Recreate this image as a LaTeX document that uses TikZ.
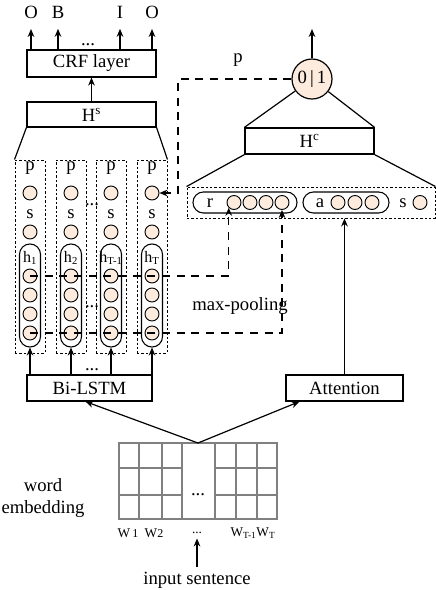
\documentclass[tikz,border=0pt]{standalone}
\usepackage{fontspec}
\setmainfont{Liberation Serif}
\usetikzlibrary{arrows.meta}
\definecolor{cellfill}{RGB}{253,236,221}
\definecolor{gridgray}{RGB}{128,128,128}
\tikzset{
  lay/.style={draw,line width=0.9pt,inner sep=0pt},
  unit/.style={circle,draw,fill=cellfill,minimum size=10.5pt,inner sep=0pt,line width=0.7pt},
  pill/.style={draw,line width=0.8pt,rounded corners=7.8pt,inner sep=0pt},
  colbox/.style={draw,dash pattern=on 1.8pt off 1.5pt,line width=0.7pt,inner sep=0pt},
  pool/.style={dash pattern=on 6pt off 5pt,line width=0.8pt},
  arr/.style={-{Stealth[length=6pt,width=5pt]},line width=0.9pt},
}
\begin{document}
\begin{tikzpicture}[x=0.75pt,y=-0.75pt,font=\fontsize{14}{16}\selectfont]
\useasboundingbox (0,0) rectangle (436,590);

% sequence labelling side
\node[lay,minimum width=96.75pt,minimum height=20.25pt] (crf) at (91.5,63.5) {CRF layer};
\node[lay,minimum width=96.75pt,minimum height=18.75pt] (hs) at (91.5,114.5) {H\textsuperscript{s}};
\draw[arr] (hs.north) -- (crf.south);
\foreach \n/\x/\t in {o1/31/O,b/58/B,i/120/I,o2/152/O}{
  \node (\n) at (\x,12) {\t};
  \draw[arr] (\n |- crf.north) -- ([yshift=-4.5pt]\n.south);
}
\node at (88,45) {...};

\foreach \i/\x/\h in {1/30/h\textsubscript{1},2/71/h\textsubscript{2},3/111/h\textsubscript{T-1},4/152/h\textsubscript{T}}{
  \node[colbox,minimum width=22.5pt,minimum height=144.75pt] (col\i) at (\x,256.5) {};
  \node (p\i) at (\x,168) {p};
  \node[unit] (pu\i) at (\x,193) {};
  \node (s\i) at (\x,214) {s};
  \node[unit] (su\i) at (\x,232) {};
  \node[pill,minimum width=15.75pt,minimum height=77.25pt] (hp\i) at (\x,295.5) {};
  \node[font=\fontsize{12}{14}\selectfont] (hl\i) at (\x,258) {\h};
  \foreach \j/\y in {1/276,2/295,3/314,4/333}
    \node[unit] (h\i\j) at (\x,\y) {};
}
\draw[lay] (hs.south west) -- (col1.north west);
\draw[lay] (hs.south east) -- (col4.north east);
\node at (92,205) {...};
\node at (92,307) {...};

\node[lay,minimum width=93.75pt,minimum height=19.5pt] (lstm) at (89.5,388) {Bi-LSTM};
\foreach \i in {1,...,4}
  \draw[arr] (hp\i.south |- lstm.north) -- (hp\i.south);
\node at (92,370) {...};

% classification side
\node[colbox,minimum width=186pt,minimum height=23.25pt] (ctx) at (311,202.5) {};
\node[pill,minimum width=78pt,minimum height=15.75pt] (rpill) at (245,202.5) {};
\node (rl) at (210,203) {r};
\foreach \k/\x in {1/234,2/250,3/266,4/282}
  \node[unit] (r\k) at (\x,202.5) {};
\node[pill,minimum width=64.5pt,minimum height=15.75pt] (apill) at (346,202.5) {};
\node (al) at (320,203) {a};
\foreach \k/\x in {1/338,2/355,3/372}
  \node[unit] (a\k) at (\x,202.5) {};
\node (sl) at (403,203) {s};
\node[unit] (sc) at (420,202.5) {};

\node[lay,minimum width=96.75pt,minimum height=19.5pt] (hc) at (309.5,141) {H\textsuperscript{c}};
\draw[lay] (hc.south west) -- (ctx.north west);
\draw[lay] (hc.south east) -- (ctx.north east);
\node[unit,minimum size=30pt,line width=0.9pt] (z) at (312,79) {0\,|\,1};
\draw[lay] (hc.north west) -- (z);
\draw[lay] (hc.north east) -- (z);
\coordinate (zout) at (312,29);
\draw[arr] (z.north) -- (zout);

\coordinate (pc) at (178,79);
\draw[pool,arr] (z.west) -- (pc) |- (pu4.east);
\node (pl) at (238,60) {p};

% max-pooling
\draw[pool,arr] (h11.center) -| (r1.south west);
\draw[pool,arr] (h14.center) -| (r4.south);
\node (mp) at (240,306) {max-pooling};

\node[lay,minimum width=87.75pt,minimum height=19.5pt] (att) at (344.5,388) {Attention};
\draw[arr] (att.north) -- (att.north |- ctx.south);

% word embedding
\begin{scope}[draw=gridgray,line width=0.8pt]
  \draw (119,443) rectangle (277,519);
  \foreach \x in {139,162,182,215,236,257}
    \draw (\x,443) -- (\x,519);
  \foreach \y in {468,495}{
    \draw (119,\y) -- (182,\y);
    \draw (215,\y) -- (277,\y);
  }
\end{scope}
\node (gd) at (198,495) {...};
\coordinate (embtop) at (198,443);
\draw[arr] (embtop) -- ([xshift=-3pt]lstm.south);
\draw[arr] (embtop) -- ([xshift=10.5pt]att.south west);

\node[align=center,font=\fontsize{14}{17}\selectfont] (we) at (43,498) {word\\embedding};
\begin{scope}[font=\fontsize{10}{12}\selectfont]
  \node (w1) at (128,533) {W\,{\fontsize{9}{10}\selectfont 1}};
  \node (w2) at (154,533) {W{\fontsize{9}{10}\selectfont 2}};
  \node (wd) at (197,533) {...};
  \node (wt) at (253,533) {W\textsubscript{T-1}W\textsubscript{T}};
\end{scope}
\node (inp) at (197,580) {input sentence};
\draw[arr] (inp.north) -- (wd.south);
\end{tikzpicture}
\end{document}
